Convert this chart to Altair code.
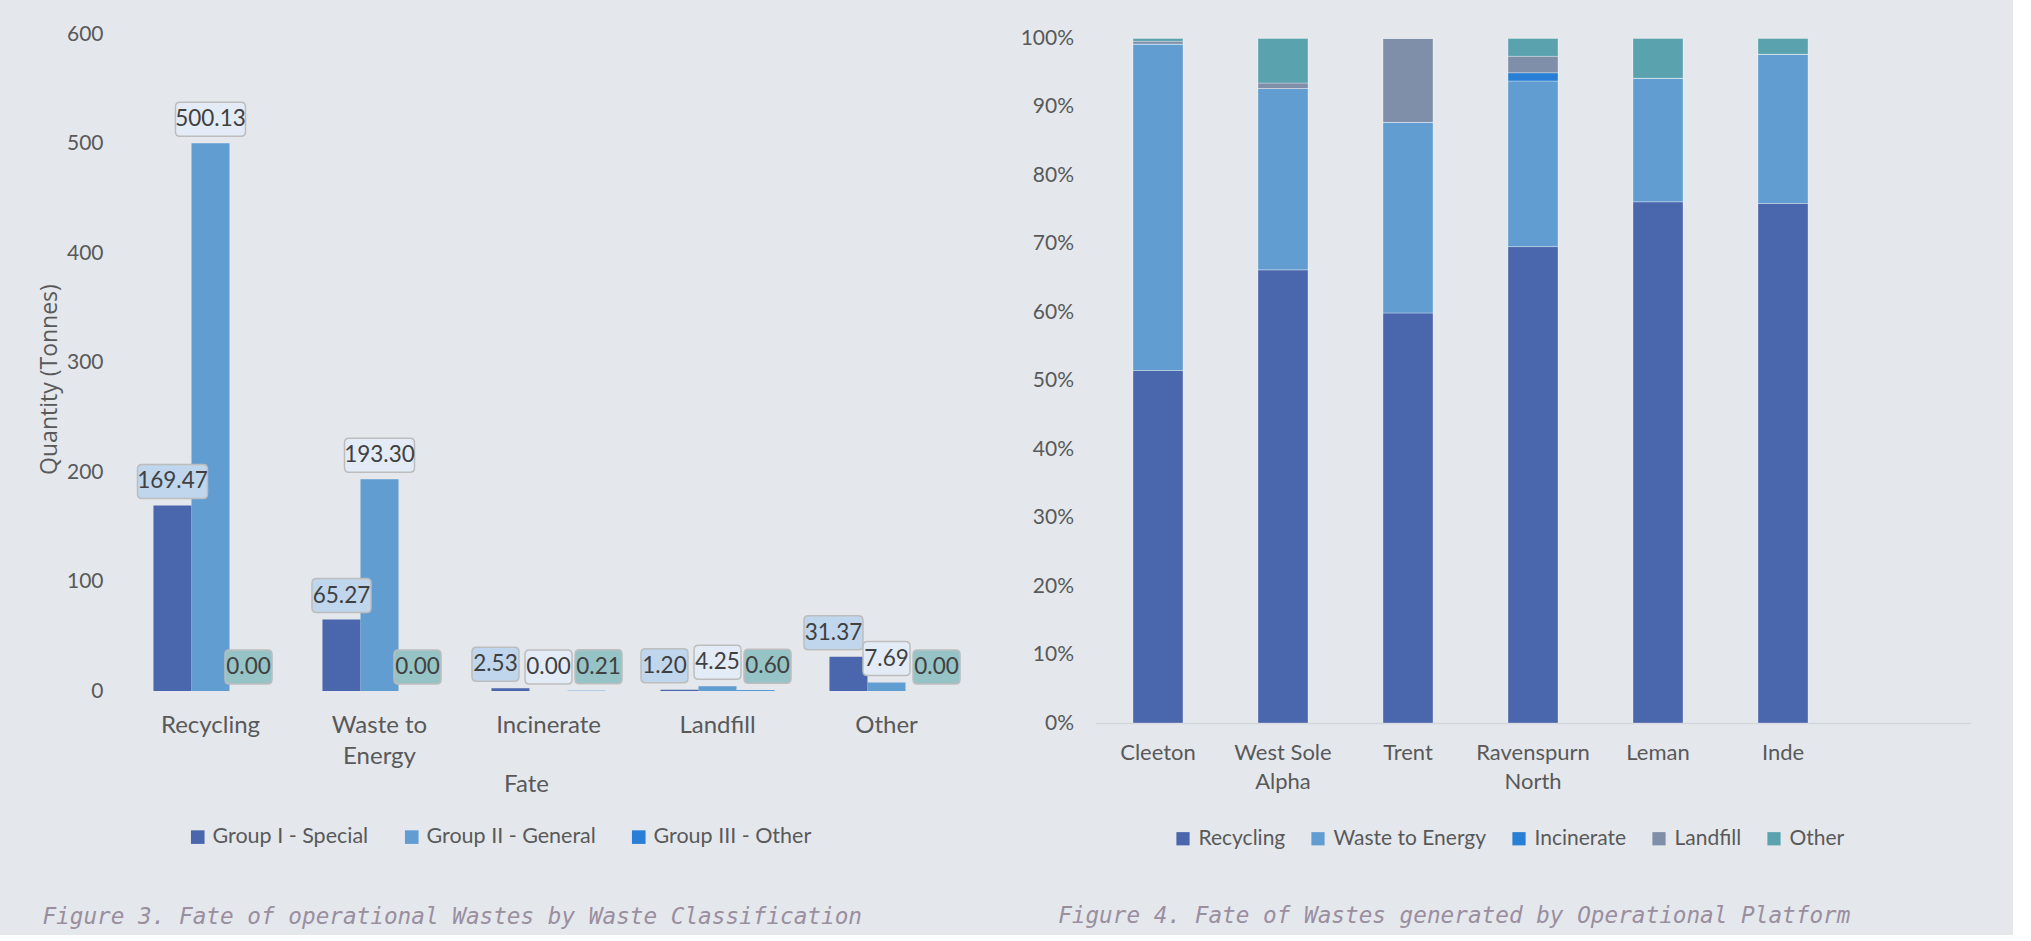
import json
import textwrap
import altair as alt
import pandas as pd

# ---------------- Figure 3 data (tonnes) ----------------
fates = ["Recycling", "Waste to Energy", "Incinerate", "Landfill", "Other"]
groups = ["Group I - Special", "Group II - General", "Group III - Other"]
group1_special = [169.47, 65.27, 2.53, 1.20, 31.37]
group2_general = [500.13, 193.30, 0.00, 4.25, 7.69]
group3_other = [0.00, 0.00, 0.21, 0.60, 0.00]

# ---------------- Figure 4 data (% of each platform's waste) ----------------
platforms = ["Cleeton", "West Sole Alpha", "Trent", "Ravenspurn North", "Leman", "Inde"]
pct_recycling = [51.5, 66.2, 59.9, 69.6, 76.15, 75.9]
pct_wte = [47.65, 26.5, 27.85, 24.2, 18.05, 21.8]
pct_incinerate = [0.05, 0.0, 0.0, 1.2, 0.0, 0.0]
pct_landfill = [0.4, 0.8, 12.25, 2.4, 0.0, 0.0]
pct_other = [0.4, 6.5, 0.0, 2.6, 5.8, 2.3]

# ---------------- styles ----------------
BG = "#e4e8ed"
TXT = "#595959"
CAP = "#9a8e9f"
group_colors = ["#4a66ac", "#629dd1", "#297fd5"]
box_fills = ["#bfd6ed", "#e3ecf6", "#96c4c6"]
fate_colors = ["#4a66ac", "#629dd1", "#297fd5", "#7f8fa9", "#5aa2ae"]
FONT = "Lato"
CAP_FONT = "DejaVu Sans Mono"

# ---------------- tables ----------------
series1 = [group1_special, group2_general, group3_other]
df1 = pd.DataFrame(
    [{"fate": f, "group": g, "value": series1[j][i]}
     for i, f in enumerate(fates) for j, g in enumerate(groups)]
)
series2 = [pct_recycling, pct_wte, pct_incinerate, pct_landfill, pct_other]
df2 = pd.DataFrame(
    [{"platform": p, "fate": f, "pct": series2[j][i], "idx": j}
     for i, p in enumerate(platforms) for j, f in enumerate(fates)]
)


def wrap_expr(names):
    lines = {n: textwrap.wrap(n, 10) for n in names}
    return f"{json.dumps(lines)}[datum.label] || datum.label"


# rounded label boxes as custom symbol paths (unit = 10 px at size 400)
def box_path(half_w, cx, cy=-2.4, half_h=1.7, r=0.45):
    x0, x1 = round(cx - half_w, 2), round(cx + half_w, 2)
    y0, y1 = round(cy - half_h, 2), round(cy + half_h, 2)
    a, b = round(x0 + r, 2), round(x1 - r, 2)
    c, d = round(y0 + r, 2), round(y1 - r, 2)
    return (f"M{a},{y0} L{b},{y0} Q{x1},{y0} {x1},{c} L{x1},{d} Q{x1},{y1} {b},{y1} "
            f"L{a},{y1} Q{x0},{y1} {x0},{d} L{x0},{c} Q{x0},{y0} {a},{y0} Z")


half_widths = {4: 2.35, 5: 2.95, 6: 3.5}
nudges = {"L": (-1.5, -15), "C": (0.0, 0), "R": (1.2, 12)}
keys, paths = [], []
for n, hw in half_widths.items():
    for cls, (ux, _) in nudges.items():
        keys.append(f"{n}{cls}")
        paths.append(box_path(hw, ux))

# ---------------- Figure 3 ----------------
x1 = alt.X(
    "fate:N", sort=fates,
    scale=alt.Scale(domain=fates, paddingInner=0.325, paddingOuter=0.1625),
    axis=alt.Axis(title="Fate", labelExpr=wrap_expr(fates), labelAngle=0,
                  labelFontSize=24, labelPadding=22, labelLineHeight=31,
                  titleFont=FONT, titleFontSize=24, titleFontWeight="normal",
                  titleColor=TXT, titlePadding=4, titleX=400),
)
xo1 = alt.XOffset("group:N", scale=alt.Scale(domain=groups, paddingInner=0, paddingOuter=0))
y1 = alt.Y(
    "value:Q", scale=alt.Scale(domain=[0, 600]),
    axis=alt.Axis(title="Quantity (Tonnes)", values=list(range(0, 601, 100)),
                  labelPadding=23, labelFontSize=21, titleFont="Open Sans",
                  titleFontSize=23, titleFontWeight="normal", titleColor=TXT,
                  titlePadding=5, titleY=345),
)

bars1 = alt.Chart(df1).mark_bar().encode(
    x=x1, xOffset=xo1, y=y1,
    color=alt.Color("group:N", scale=alt.Scale(domain=groups, range=group_colors),
                    legend=alt.Legend(orient="none", legendX=61, legendY=792,
                                      direction="horizontal", title=None,
                                      columnPadding=32, labelOffset=4, labelLimit=400,
                                      symbolSize=185, labelFontSize=21.5)),
)

lab = (
    alt.Chart(df1)
    .transform_joinaggregate(catmax="max(value)", groupby=["fate"])
    .transform_calculate(
        label="format(datum.value, '.2f')",
        nudge=(f"datum.catmax < 50 ? (datum.group == '{groups[0]}' ? 'L' : "
               f"(datum.group == '{groups[2]}' ? 'R' : 'C')) : 'C'"),
    )
    .transform_calculate(key="length(datum.label) + datum.nudge")
)

boxes = lab.mark_point(filled=True, size=400, opacity=1, stroke="#bdbdbd",
                       strokeWidth=1.5).encode(
    x=x1, xOffset=xo1, y=y1,
    shape=alt.Shape("key:N", scale=alt.Scale(domain=keys, range=paths), legend=None),
    fill=alt.Fill("group:N", scale=alt.Scale(domain=groups, range=box_fills), legend=None),
)

texts = []
for cls, (_, dx) in nudges.items():
    texts.append(
        lab.transform_filter(f"datum.nudge == '{cls}'")
        .mark_text(dx=dx, dy=-24, font=FONT, fontSize=22.5, color="#404040",
                   baseline="middle", align="center")
        .encode(x=x1, xOffset=xo1, y=y1, text="label:N")
    )

left = alt.layer(bars1, boxes, *texts).properties(
    width=845, height=657,
    title=alt.TitleParams(
        "Figure 3. Fate of operational Wastes by Waste Classification",
        orient="bottom", anchor="start", frame="bounds", dx=4, offset=58,
        font=CAP_FONT, fontStyle="italic", fontWeight="normal", fontSize=22.7,
        color=CAP,
    ),
)

# ---------------- Figure 4 ----------------
platform_slots = platforms + [" "]
x2 = alt.X(
    "platform:N", sort=platform_slots,
    scale=alt.Scale(domain=platform_slots, paddingInner=0.6, paddingOuter=0.3),
    axis=alt.Axis(title=None, labelExpr=wrap_expr(platforms), labelAngle=0,
                  labelFontSize=22, labelPadding=19, labelLineHeight=29,
                  domain=True, domainColor="#d3d7dc", domainWidth=1.5),
)
y2 = alt.Y(
    "pct:Q", stack="normalize", scale=alt.Scale(domain=[0, 1.0066]),
    axis=alt.Axis(title=None, format=".0%", values=[i / 10 for i in range(11)],
                  labelPadding=22, labelFontSize=21),
)
bars2 = alt.Chart(df2).mark_bar(stroke="#ffffff", strokeWidth=0.6, strokeOpacity=0.5).encode(
    x=x2, y=y2,
    color=alt.Color("fate:N", scale=alt.Scale(domain=fates, range=fate_colors),
                    legend=alt.Legend(orient="none", legendX=77, legendY=794,
                                      direction="horizontal", title=None,
                                      columnPadding=22, labelOffset=5, labelLimit=400,
                                      symbolSize=175, labelFontSize=21)),
    order=alt.Order("idx:Q", sort="ascending"),
)
right = bars2.properties(
    width=875, height=689,
    title=alt.TitleParams(
        "Figure 4. Fate of Wastes generated by Operational Platform",
        orient="bottom", anchor="start", frame="bounds", dx=38, offset=56,
        font=CAP_FONT, fontStyle="italic", fontWeight="normal", fontSize=22.7,
        color=CAP,
    ),
)

chart = (
    alt.hconcat(left, right, spacing=124.5, bounds="flush")
    .resolve_scale(color="independent", fill="independent", shape="independent")
    .resolve_legend(color="independent")
    .properties(padding={"left": 38, "top": 23, "right": 42, "bottom": 6})
    .configure(background=BG)
    .configure_view(stroke=None)
    .configure_axis(labelFont=FONT, labelFontSize=20, labelColor=TXT, domain=False,
                    ticks=False, tickSize=0, grid=False)
    .configure_legend(labelFont=FONT, labelColor=TXT, symbolType="square",
                      symbolStrokeWidth=0)
)

chart.save("out.html", embed_options={"renderer": "svg", "actions": False})
